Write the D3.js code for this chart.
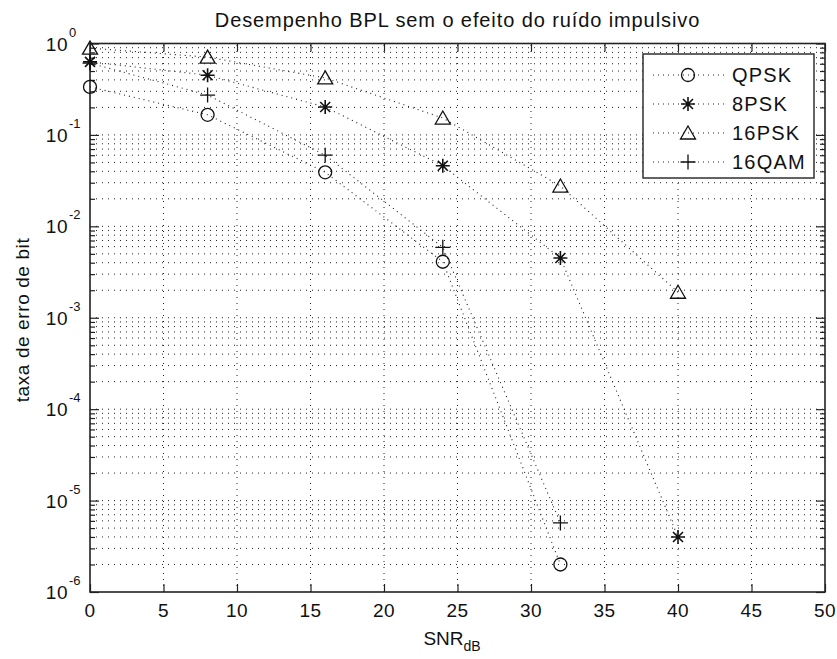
<!DOCTYPE html>
<html>
<head>
<meta charset="utf-8">
<script src="https://cdn.jsdelivr.net/npm/d3@7"></script>
<style>
  html, body { margin: 0; padding: 0; background: #fff; }
  svg text { font-family: "Liberation Sans", Arial, Helvetica, sans-serif; fill: #111; }
</style>
</head>
<body>
<svg id="chart" width="837" height="659"></svg>
<script>
// Bit error rate vs SNR for four modulation schemes
const snr = [0, 8, 16, 24, 32, 40];
const qpsk  = [0.335, 0.166, 0.039, 0.0041, 2.0e-6];
const psk8  = [0.63, 0.45, 0.202, 0.046, 0.0045, 4.0e-6];
const psk16 = [0.89, 0.71, 0.42, 0.153, 0.0276, 0.0019];
const qam16 = [0.61, 0.273, 0.060, 0.0059, 5.7e-6];

const seriesNames = ["QPSK", "8PSK", "16PSK", "16QAM"];
const seriesMarkers = ["circle", "star", "triangle", "plus"];

const xTicks = [0, 5, 10, 15, 20, 25, 30, 35, 40, 45, 50];
const yExponents = [0, -1, -2, -3, -4, -5, -6];

const titleText = "Desempenho BPL sem o efeito do ruído impulsivo";
const yLabelText = "taxa de erro de bit";

const series = [qpsk, psk8, psk16, qam16].map((vals, i) => ({
  name: seriesNames[i],
  marker: seriesMarkers[i],
  points: vals.map((v, j) => ({ x: snr[j], y: v }))
}));

const L = 90, R = 825, T = 43.5, B = 592;
const svg = d3.select("#chart");

const x = d3.scaleLinear().domain([0, 50]).range([L, R]);
const y = d3.scaleLog().domain([1e-6, 1]).range([B, T]);

// grid: major x, major + minor y
const grid = svg.append("g").attr("stroke", "#222").attr("stroke-width", 1)
  .attr("stroke-dasharray", "1,5").attr("fill", "none");
xTicks.slice(1, -1).forEach(t => {
  grid.append("line").attr("x1", x(t)).attr("x2", x(t)).attr("y1", B).attr("y2", T);
});
const yGridVals = [];
for (let e = -6; e < 0; e++) for (let m = 1; m <= 9; m++) yGridVals.push(m * Math.pow(10, e));
yGridVals.slice(1).forEach(v => {
  grid.append("line").attr("x1", L).attr("x2", R).attr("y1", y(v)).attr("y2", y(v));
});

// axes with inward ticks
const xAxisB = d3.axisBottom(x).tickValues(xTicks).tickSize(-8).tickFormat("");
const xAxisT = d3.axisTop(x).tickValues(xTicks).tickSize(-8).tickFormat("");
const majorY = yExponents.map(e => Math.pow(10, e));
const minorY = yGridVals.filter(v => !majorY.some(m => Math.abs(m - v) / v < 1e-9));
function styleAxis(g) {
  g.select(".domain").remove();
  g.selectAll(".tick line").attr("stroke", "#222").attr("stroke-width", 1.2);
}
svg.append("g").attr("transform", `translate(0,${B})`).call(xAxisB).call(styleAxis);
svg.append("g").attr("transform", `translate(0,${T})`).call(xAxisT).call(styleAxis);
svg.append("g").attr("transform", `translate(${L},0)`)
  .call(d3.axisLeft(y).tickValues(majorY).tickSize(-9).tickFormat("")).call(styleAxis);
svg.append("g").attr("transform", `translate(${L},0)`)
  .call(d3.axisLeft(y).tickValues(minorY).tickSize(-5).tickFormat("")).call(styleAxis);
svg.append("g").attr("transform", `translate(${R},0)`)
  .call(d3.axisRight(y).tickValues(majorY).tickSize(-9).tickFormat("")).call(styleAxis);
svg.append("g").attr("transform", `translate(${R},0)`)
  .call(d3.axisRight(y).tickValues(minorY).tickSize(-5).tickFormat("")).call(styleAxis);

// frame
svg.append("rect").attr("x", L).attr("y", T).attr("width", R - L).attr("height", B - T)
  .attr("fill", "none").attr("stroke", "#222").attr("stroke-width", 1.6);

// x tick labels
svg.append("g").selectAll("text").data(xTicks).join("text")
  .attr("x", d => x(d)).attr("y", 617).attr("text-anchor", "middle")
  .attr("font-size", 19).attr("letter-spacing", 0.5).text(d => d);

// y tick labels: 10 with superscript exponent
const yl = svg.append("g").selectAll("g").data(yExponents).join("g")
  .attr("transform", e => `translate(68,${y(Math.pow(10, e))})`);
yl.append("text").attr("x", 0).attr("y", 7).attr("text-anchor", "end")
  .attr("font-size", 19).attr("letter-spacing", 0.5).text("10");
yl.append("text").attr("x", 1).attr("y", -7).attr("text-anchor", "start")
  .attr("font-size", 13).text(e => e === 0 ? "0" : "-" + Math.abs(e));

// title and axis labels
svg.append("text").attr("x", (L + R) / 2).attr("y", 27).attr("text-anchor", "middle")
  .attr("font-size", 20).attr("letter-spacing", 0.9).text(titleText);
svg.append("text").attr("transform", "translate(29,320) rotate(-90)")
  .attr("text-anchor", "middle").attr("font-size", 19).attr("letter-spacing", 0.6).text(yLabelText);
const xl = svg.append("text").attr("x", 452).attr("y", 645).attr("text-anchor", "middle").attr("font-size", 19);
xl.append("tspan").text("SNR");
xl.append("tspan").attr("font-size", 14).attr("dy", 6).text("dB");

// markers
function drawMarker(g, type, cx, cy) {
  const s = g.append("g").attr("transform", `translate(${cx},${cy})`)
    .attr("fill", "none").attr("stroke", "#111").attr("stroke-width", 1.3);
  if (type === "circle") {
    s.append("circle").attr("r", 6.5);
  } else if (type === "triangle") {
    s.append("path").attr("d", "M0,-7 L7.5,6 L-7.5,6 Z");
  } else if (type === "plus") {
    s.append("path").attr("d", "M-7.5,0 H7.5 M0,-7.5 V7.5");
  } else if (type === "star") {
    s.append("path").attr("stroke-width", 1.6)
      .attr("d", "M-7,0 H7 M0,-7 V7 M-5,-5 L5,5 M-5,5 L5,-5");
  }
}

const line = d3.line().x(d => x(d.x)).y(d => y(d.y));
const plot = svg.append("g");
series.forEach(s => {
  plot.append("path").datum(s.points).attr("d", line)
    .attr("fill", "none").attr("stroke", "#222").attr("stroke-width", 1.1)
    .attr("stroke-dasharray", "1,4");
  s.points.forEach(p => drawMarker(plot, s.marker, x(p.x), y(p.y)));
});

// legend
const lg = svg.append("g");
lg.append("rect").attr("x", 643).attr("y", 54).attr("width", 171).attr("height", 124)
  .attr("fill", "#fff").attr("stroke", "#222").attr("stroke-width", 1.4);
const rowY = [75, 104, 133, 162];
series.forEach((s, i) => {
  lg.append("line").attr("x1", 653).attr("x2", 727).attr("y1", rowY[i]).attr("y2", rowY[i])
    .attr("stroke", "#222").attr("stroke-width", 1.1).attr("stroke-dasharray", "1,4");
  drawMarker(lg, s.marker, 688, rowY[i]);
  lg.append("text").attr("x", 732).attr("y", rowY[i] + 7).attr("font-size", 20)
    .attr("letter-spacing", 1.2).text(s.name);
});
</script>
</body>
</html>
